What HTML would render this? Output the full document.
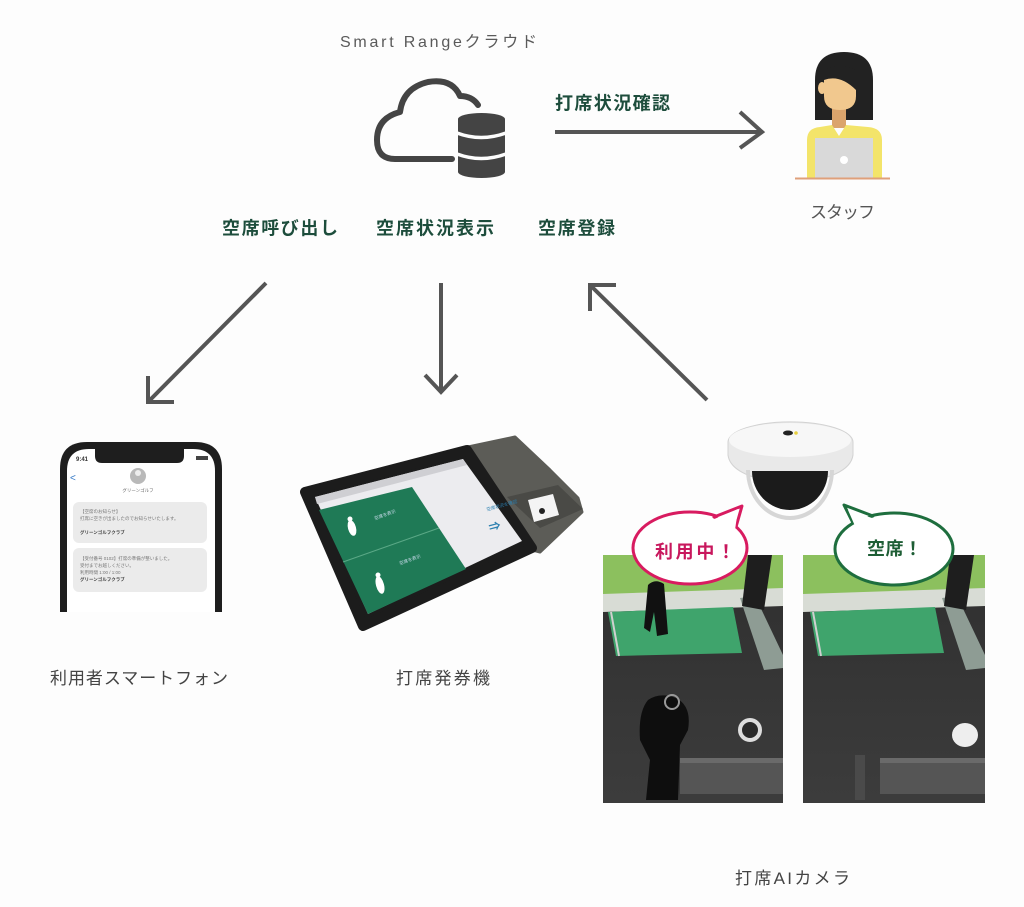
<!DOCTYPE html>
<html>
<head>
<meta charset="utf-8">
<style>
  html,body{margin:0;padding:0;background:#fdfdfd;}
  body{width:1024px;height:907px;overflow:hidden;}
  svg{display:block;}
  text{font-family:"Liberation Sans","Noto Sans CJK JP",sans-serif;}
</style>
</head>
<body>
<svg width="1024" height="907" viewBox="0 0 1024 907" xmlns="http://www.w3.org/2000/svg">
  <defs>
    <clipPath id="cl1"><rect x="603" y="555" width="180" height="248"/></clipPath>
    <clipPath id="cl2"><rect x="803" y="555" width="182" height="248"/></clipPath>
    <linearGradient id="floor" x1="0" y1="0" x2="0" y2="1">
      <stop offset="0" stop-color="#2f2f2f"/>
      <stop offset="1" stop-color="#3c3c3c"/>
    </linearGradient>
  </defs>
  <rect width="1024" height="907" fill="#fdfdfd"/>

  <!-- Title -->
  <text x="340" y="47" font-size="16" fill="#5a5a5a" textLength="197" lengthAdjust="spacing">Smart Rangeクラウド</text>

  <!-- Cloud -->
  <path d="M452,159 L395,159 Q377,159 377,140 Q377,118 400,112 Q403,88 428,82 Q452,78 460,96 Q472,96 478,105" fill="none" stroke="#444" stroke-width="6" stroke-linecap="round" stroke-linejoin="round"/>
  <!-- Database -->
  <path d="M458,119 A23.5,6 0 0 1 505,119 L505,172 A23.5,6 0 0 1 458,172 Z" fill="#444"/>
  <path d="M457,133 Q481,142 506,133" fill="none" stroke="#fdfdfd" stroke-width="3.5"/>
  <path d="M457,154 Q481,163 506,154" fill="none" stroke="#fdfdfd" stroke-width="3.5"/>

  <!-- Horizontal arrow -->
  <text x="555" y="109.5" font-size="18" font-weight="bold" fill="#1d4d3c" textLength="115" lengthAdjust="spacing">打席状況確認</text>
  <line x1="555" y1="132" x2="760" y2="132" stroke="#555" stroke-width="4"/>
  <polyline points="740,112 762,132 740,148" fill="none" stroke="#555" stroke-width="4" stroke-linejoin="miter"/>

  <!-- Staff -->
  <path d="M815,120 L815,80 Q815,52 844,52 Q873,52 873,80 L873,120 Z" fill="#222"/>
  <rect x="832" y="100" width="14" height="28" fill="#dba46c"/>
  <path d="M824,78 Q824,72 832,72 L848,72 Q856,72 856,82 L856,96 Q856,110 840,110 Q824,110 824,96 Z" fill="#f1c88e"/>
  <ellipse cx="822" cy="88" rx="4" ry="6" fill="#f1c88e"/>
  <path d="M824,80 Q840,74 856,90 L856,70 Q840,62 824,70 Z" fill="#222"/>
  <path d="M807,178 L807,140 Q807,128 820,127 L832,125 L839,136 L846,125 L868,127 Q882,128 882,140 L882,178 Z" fill="#f3e46a"/>
  <rect x="815" y="138" width="58" height="40" fill="#d9d9d9"/>
  <circle cx="844" cy="160" r="4" fill="#ffffff"/>
  <line x1="795" y1="178.5" x2="890" y2="178.5" stroke="#dfa07a" stroke-width="2"/>
  <text x="810" y="218" font-size="17" fill="#555" textLength="65" lengthAdjust="spacing">スタッフ</text>

  <!-- Function labels -->
  <text x="222" y="234.5" font-size="18" font-weight="bold" fill="#1d4d3c" textLength="116" lengthAdjust="spacing">空席呼び出し</text>
  <text x="376" y="234.5" font-size="18" font-weight="bold" fill="#1d4d3c" textLength="118" lengthAdjust="spacing">空席状況表示</text>
  <text x="538" y="234.5" font-size="18" font-weight="bold" fill="#1d4d3c" textLength="77" lengthAdjust="spacing">空席登録</text>

  <!-- Arrows -->
  <line x1="266" y1="283" x2="149" y2="401" stroke="#555" stroke-width="4"/>
  <polyline points="148,376 148,402 174,402" fill="none" stroke="#555" stroke-width="4"/>
  <line x1="441" y1="283" x2="441" y2="390" stroke="#555" stroke-width="4"/>
  <polyline points="425,375 441,392 457,375" fill="none" stroke="#555" stroke-width="4"/>
  <line x1="707" y1="400" x2="591" y2="286" stroke="#555" stroke-width="4"/>
  <polyline points="590,311 590,285 616,285" fill="none" stroke="#555" stroke-width="4"/>

  <!-- Phone -->
  <path d="M60,612 V469 Q60,442 87,442 H195 Q222,442 222,469 V612 Z" fill="#1e1e1e"/>
  <path d="M67,612 V471 Q67,449 89,449 H193 Q215,449 215,471 V612 Z" fill="#ffffff"/>
  <path d="M95,449 H184 V456 Q184,463 177,463 H102 Q95,463 95,456 Z" fill="#1e1e1e"/>
  <text x="76" y="461" font-size="6" font-weight="bold" fill="#333">9:41</text>
  <rect x="196" y="456" width="12" height="4" fill="#444"/>
  <text x="70" y="481" font-size="10" fill="#3478c6">&lt;</text>
  <circle cx="138" cy="476" r="8" fill="#b9b9b9"/>
  <circle cx="138" cy="473" r="3" fill="#eee"/>
  <text x="138" y="492" font-size="4.5" fill="#666" text-anchor="middle">グリーンゴルフ</text>
  <rect x="73" y="502" width="134" height="41" rx="6" fill="#ebebeb"/>
  <text x="80" y="513" font-size="4.5" fill="#777">【空席のお知らせ】</text>
  <text x="80" y="520" font-size="4.5" fill="#777">打席に空きが出ましたのでお知らせいたします。</text>
  <text x="80" y="534" font-size="4.5" font-weight="bold" fill="#444">グリーンゴルフクラブ</text>
  <rect x="73" y="548" width="134" height="44" rx="6" fill="#ebebeb"/>
  <text x="80" y="560" font-size="4.5" fill="#777">【受付番号 0102】打席の準備が整いました。</text>
  <text x="80" y="567" font-size="4.5" fill="#777">受付までお越しください。</text>
  <text x="80" y="574" font-size="4.5" fill="#777">利用時間 1:00 / 1:00</text>
  <text x="80" y="581" font-size="4.5" font-weight="bold" fill="#444">グリーンゴルフクラブ</text>
  <text x="50" y="684" font-size="17" fill="#444" textLength="178" lengthAdjust="spacing">利用者スマートフォン</text>

  <!-- Kiosk -->
  <polygon points="468,447 515,437 550,470 578,498 582,512 540,552 525,548" fill="#5c5c57" stroke="#5c5c57" stroke-width="3" stroke-linejoin="round"/>
  <polygon points="507,497 558,485 583,509 540,528" fill="#4a4a46"/>
  <polygon points="528,500 553,494 559,515 534,522" fill="#f4f4f4"/>
  <circle cx="542" cy="511" r="3" fill="#222"/>
  <polygon points="305,492 467,450 532,548 363,626" fill="#1c1c1c" stroke="#1c1c1c" stroke-width="10" stroke-linejoin="round"/>
  <polygon points="315,497 463,459 522,541 368,614" fill="#ececef"/>
  <polygon points="315,497 463,459 467,465 317,504" fill="#cfcfd3"/>
  <polygon points="319,510 412,487 466,569 368,614" fill="#1f7a56"/>
  <line x1="343" y1="562" x2="439" y2="528" stroke="#5aa886" stroke-width="1"/>
  <ellipse cx="352" cy="528" rx="4" ry="8" fill="#fff" transform="rotate(-15 352 528)"/>
  <circle cx="350" cy="519" r="2.5" fill="#fff"/>
  <ellipse cx="380" cy="585" rx="4" ry="9" fill="#fff" transform="rotate(-15 380 585)"/>
  <circle cx="378" cy="575" r="2.5" fill="#fff"/>
  <text x="375" y="520" font-size="4.5" fill="#cde" transform="rotate(-20 375 520)">空席を表示</text>
  <text x="400" y="565" font-size="4.5" fill="#cde" transform="rotate(-20 400 565)">空席を表示</text>
  <text x="487" y="511" font-size="4.5" fill="#2a7fb0" transform="rotate(-15 487 511)">空席状況を確認</text>
  <text x="490" y="532" font-size="12" font-weight="bold" fill="#2a7fb0" transform="rotate(-15 490 532)">⇒</text>
  <text x="396" y="684" font-size="17" fill="#444" textLength="94" lengthAdjust="spacing">打席発券機</text>

  <!-- Photos -->
  <g clip-path="url(#cl1)">
    <rect x="603" y="555" width="180" height="248" fill="url(#floor)"/>
    <rect x="603" y="555" width="180" height="42" fill="#8cc05e"/>
    <polygon points="603,594 783,588 783,606 603,612" fill="#d8dcd5"/>
    <polygon points="608,612 733,607 742,653 616,656" fill="#3fa46c"/>
    <line x1="611" y1="612" x2="619" y2="656" stroke="#d0d0d0" stroke-width="2"/>
    <polygon points="740,598 755,596 783,655 783,668 764,670" fill="#8e9c94"/>
    <polygon points="748,555 772,555 764,610 742,606" fill="#1e1e1e"/>
    <rect x="680" y="758" width="103" height="36" fill="#555"/>
    <rect x="680" y="758" width="103" height="5" fill="#6a6a6a"/>
    <path d="M648,585 Q655,578 664,584 L668,634 L657,636 L654,612 L650,632 L644,628 Z" fill="#111"/>
    <path d="M648,700 Q660,692 676,698 Q692,706 688,730 L680,745 L678,800 L646,800 L650,760 L640,740 Q638,712 648,700 Z" fill="#0e0e0e"/>
    <circle cx="672" cy="702" r="7" fill="none" stroke="#999" stroke-width="2"/>
    <circle cx="750" cy="730" r="10" fill="#2a2a2a" stroke="#ddd" stroke-width="4"/>
  </g>
  <g clip-path="url(#cl2)">
    <rect x="803" y="555" width="182" height="248" fill="url(#floor)"/>
    <rect x="803" y="555" width="182" height="42" fill="#8cc05e"/>
    <polygon points="803,594 985,588 985,606 803,612" fill="#d8dcd5"/>
    <polygon points="810,612 935,607 944,653 818,656" fill="#3fa46c"/>
    <line x1="813" y1="612" x2="821" y2="656" stroke="#d0d0d0" stroke-width="2"/>
    <polygon points="942,598 957,596 985,655 985,668 966,670" fill="#8e9c94"/>
    <polygon points="950,555 974,555 966,610 944,606" fill="#1e1e1e"/>
    <rect x="880" y="758" width="105" height="36" fill="#555"/>
    <rect x="880" y="758" width="105" height="5" fill="#6a6a6a"/>
    <rect x="855" y="755" width="10" height="45" fill="#4a4a4a"/>
    <ellipse cx="965" cy="735" rx="13" ry="12" fill="#eeeeee"/>
  </g>

  <!-- Camera -->
  <path d="M728,442 A62,20 0 0 1 853,442 L853,455 Q850,478 790,484 Q731,478 728,455 Z" fill="#e9e9e9" stroke="#d2d2d2" stroke-width="1"/>
  <ellipse cx="790" cy="440" rx="61" ry="17" fill="#f7f7f7"/>
  <path d="M748,470 A42,48 0 0 0 832,470" fill="none" stroke="#d6d6d6" stroke-width="4"/>
  <path d="M752,471 A38,39 0 0 0 828,471 Z" fill="#1b1b1b"/>
  <ellipse cx="788" cy="433" rx="5" ry="2.5" fill="#222"/>
  <circle cx="796" cy="433" r="1.8" fill="#e8d040"/>

  <!-- Speech bubbles -->
  <ellipse cx="690" cy="548" rx="57" ry="36" fill="#fff" stroke="#d81b60" stroke-width="3"/>
  <polygon points="714,517 742,506 736,527" fill="#fff" stroke="#d81b60" stroke-width="3" stroke-linejoin="round"/>
  <polygon points="712,520 738,509 735,530" fill="#fff"/>
  <text x="655" y="558" font-size="18" font-weight="bold" fill="#c8175d" textLength="80" lengthAdjust="spacing">利用中！</text>

  <ellipse cx="894" cy="549" rx="59" ry="36" fill="#fff" stroke="#1e6e3e" stroke-width="3"/>
  <polygon points="853,523 844,505 873,516" fill="#fff" stroke="#1e6e3e" stroke-width="3" stroke-linejoin="round"/>
  <polygon points="855,526 848,510 875,519" fill="#fff"/>
  <text x="867" y="555" font-size="18" font-weight="bold" fill="#1e5e35" textLength="55" lengthAdjust="spacing">空席！</text>

  <text x="735" y="884" font-size="17" fill="#444" textLength="115" lengthAdjust="spacing">打席AIカメラ</text>
</svg>
</body>
</html>
